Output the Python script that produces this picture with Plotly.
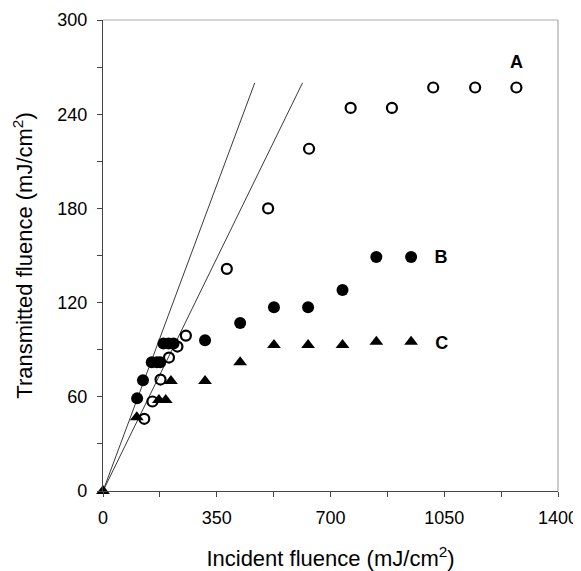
import plotly.graph_objects as go

# series A (open circles)
a_x = [127, 152, 177, 203, 229, 255, 381, 508, 634, 762, 889, 1016, 1145, 1272]
a_y = [46, 57, 71, 85, 92, 99, 141.5, 180, 218, 244, 244, 257, 257, 257]

# series B (filled circles)
b_x = [105, 123, 150, 166, 176, 186, 202, 217, 314, 422, 526, 631, 737, 841, 948]
b_y = [59, 70.5, 82, 82, 82, 94, 94, 94, 96, 107, 117, 117, 128, 149, 149]

# series C (filled triangles)
c_x = [0, 104, 172, 193, 209, 314, 422, 526, 631, 737, 841, 948]
c_y = [0, 47, 58, 58, 70, 70, 82, 93, 93, 93, 95, 95]

# two reference lines from the origin
steep_x = [0, 467]
steep_y = [0, 260]
shallow_x = [0, 614]
shallow_y = [0, 260]

labels = ["A", "B", "C"]
label_x = [1272, 1040, 1042]
label_y = [272, 148, 93]

FONT = "Liberation Sans, Arial, sans-serif"

fig = go.Figure()
for lx, ly in [(steep_x, steep_y), (shallow_x, shallow_y)]:
    fig.add_trace(go.Scatter(
        x=lx, y=ly, mode="lines",
        line=dict(color="#222", width=0.9),
        showlegend=False, hoverinfo="skip",
    ))
fig.add_trace(go.Scatter(
    x=b_x, y=b_y, mode="markers", name="B",
    marker=dict(symbol="circle", size=12, color="black"),
    cliponaxis=False,
))
fig.add_trace(go.Scatter(
    x=a_x, y=a_y, mode="markers", name="A",
    marker=dict(symbol="circle-open", size=10, color="black",
                line=dict(width=2.2, color="black")),
    cliponaxis=False,
))
fig.add_trace(go.Scatter(
    x=c_x, y=c_y, mode="markers", name="C",
    marker=dict(symbol="triangle-up", size=12, color="black"),
    cliponaxis=False,
))
fig.add_trace(go.Scatter(
    x=label_x, y=label_y, mode="text", text=labels,
    textfont=dict(family=FONT, size=18, color="black", weight="bold"),
    showlegend=False, hoverinfo="skip",
))

# page body adds an 8px offset, so the figure is a bit smaller than the window
fig.update_layout(
    width=573, height=563,
    margin=dict(l=95, r=23, t=12, b=80),
    paper_bgcolor="white", plot_bgcolor="white",
    showlegend=False,
    font=dict(family=FONT, size=18, color="black"),
)
fig.update_xaxes(
    range=[0, 1400], tickvals=[0, 350, 700, 1050, 1400],
    ticks="outside", ticklen=5, tickcolor="#444",
    minor=dict(dtick=175, tick0=0, ticks="outside", ticklen=5, tickcolor="#444"),
    showline=True, linecolor="#444", linewidth=1.2,
    mirror=False, showgrid=False, zeroline=False, automargin=False,
    ticklabelstandoff=5,
    title=dict(text="Incident fluence (mJ/cm<sup>2</sup>)",
               font=dict(size=22), standoff=24),
)
fig.update_yaxes(
    range=[0, 300], tickvals=[0, 60, 120, 180, 240, 300],
    ticks="outside", ticklen=5, tickcolor="#444",
    minor=dict(dtick=30, tick0=0, ticks="outside", ticklen=5, tickcolor="#444"),
    showline=True, linecolor="#444", linewidth=1.2,
    showgrid=False, zeroline=False, automargin=False,
    ticklabelstandoff=6,
    title=dict(text="Transmitted fluence (mJ/cm<sup>2</sup>)",
               font=dict(size=22), standoff=18),
)
# light frame on top and right
fig.add_shape(type="line", xref="paper", yref="paper", x0=0, x1=1, y0=1, y1=1,
              line=dict(color="#aaa", width=1))
fig.add_shape(type="line", xref="paper", yref="paper", x0=1, x1=1, y0=0, y1=1,
              line=dict(color="#999", width=1))

fig.write_html("out.html")
